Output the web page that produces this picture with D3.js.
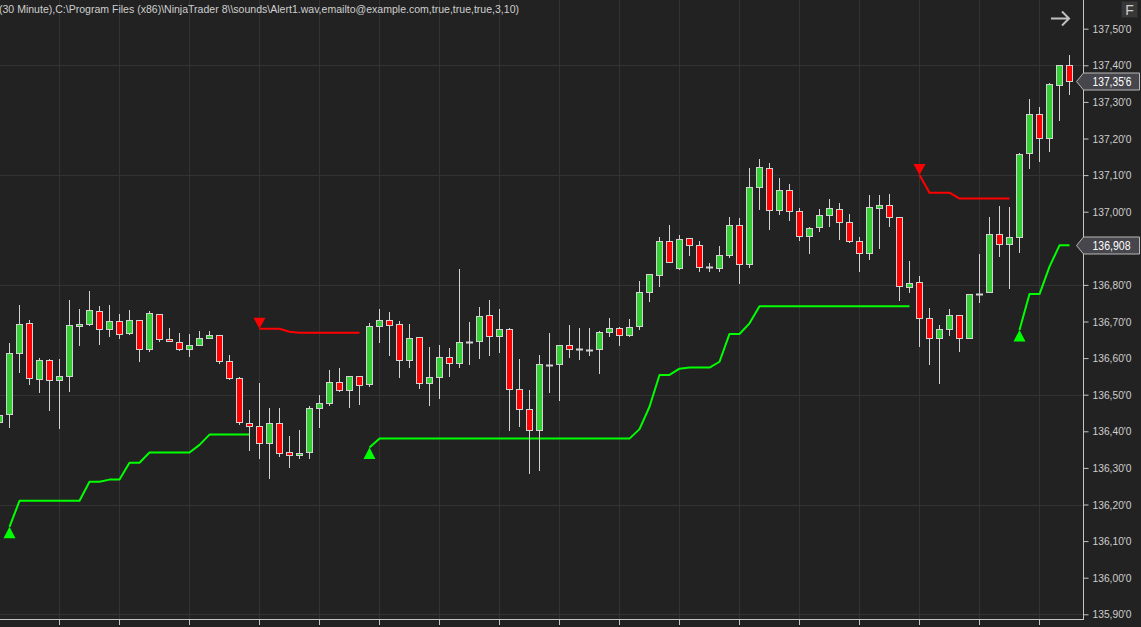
<!DOCTYPE html>
<html>
<head>
<meta charset="utf-8">
<script src="https://cdn.jsdelivr.net/npm/d3@7"></script>
<style>
  html, body { margin: 0; padding: 0; background: #222222; overflow: hidden; }
  svg { display: block; }
</style>
</head>
<body>
<svg id="chart" width="1141" height="627"></svg>
<script>
// ---------------- DATA ----------------
const headerText = "(30 Minute),C:\\Program Files (x86)\\NinjaTrader 8\\\\sounds\\Alert1.wav,emailto@example.com,true,true,true,3,10)";

// 30-minute bars, oldest first (first bar partially visible)
const opens = [136.425,136.446,136.613,136.695,136.542,136.594,136.539,136.550,136.687,136.692,136.728,136.679,136.701,136.668,136.703,136.624,136.720,136.651,136.643,136.624,136.635,136.654,136.662,136.591,136.545,136.422,136.414,136.367,136.422,136.343,136.334,136.343,136.463,136.477,136.534,136.512,136.550,136.528,136.687,136.703,136.692,136.594,136.657,136.531,136.548,136.602,136.586,136.645,136.646,136.717,136.660,136.679,136.515,136.460,136.403,136.582,136.583,136.635,136.624,136.623,136.624,136.670,136.681,136.662,136.687,136.780,136.826,136.919,136.845,136.927,136.908,136.848,136.845,136.881,136.963,136.856,137.067,137.119,137.004,137.058,137.001,136.933,136.957,136.990,137.007,136.971,136.919,136.886,137.009,137.017,136.985,136.793,136.807,136.709,136.654,136.679,136.717,136.654,136.776,136.780,136.938,136.911,136.930,137.160,137.266,137.201,137.345,137.400];
const highs = [136.458,136.640,136.745,136.704,136.599,136.598,136.598,136.759,136.734,136.783,136.742,136.745,136.721,136.731,136.704,136.729,136.721,136.681,136.668,136.665,136.674,136.674,136.662,136.608,136.548,136.458,136.531,136.463,136.463,136.387,136.403,136.468,136.498,136.567,136.572,136.550,136.550,136.695,136.733,136.725,136.701,136.692,136.657,136.630,136.635,136.627,136.843,136.698,136.739,136.758,136.733,136.681,136.597,136.512,136.608,136.668,136.635,136.690,136.681,136.681,136.673,136.709,136.684,136.706,136.810,136.829,136.930,136.963,136.936,136.927,136.919,136.859,136.905,136.985,136.982,137.119,137.143,137.132,137.091,137.075,137.009,136.957,137.007,137.034,137.023,136.993,136.930,137.045,137.045,137.048,136.985,136.864,136.823,136.736,136.690,136.733,136.717,136.774,136.884,136.985,137.015,137.012,137.160,137.307,137.285,137.351,137.400,137.427];
const lows = [136.414,136.410,136.558,136.527,136.505,136.456,136.407,136.508,136.634,136.689,136.636,136.659,136.653,136.663,136.590,136.617,136.643,136.643,136.620,136.604,136.635,136.651,136.583,136.539,136.416,136.347,136.325,136.270,136.331,136.301,136.325,136.325,136.410,136.468,136.507,136.463,136.471,136.520,136.640,136.607,136.545,136.572,136.515,136.468,136.487,136.548,136.572,136.580,136.597,136.607,136.613,136.400,136.411,136.283,136.291,136.504,136.484,136.599,136.594,136.605,136.556,136.657,136.632,136.657,136.676,136.752,136.793,136.862,136.840,136.878,136.834,136.834,136.834,136.873,136.802,136.845,137.004,136.949,136.990,136.974,136.919,136.884,136.944,136.957,136.922,136.914,136.834,136.867,136.897,136.957,136.755,136.777,136.630,136.580,136.528,136.660,136.616,136.651,136.750,136.780,136.875,136.788,136.886,137.116,137.135,137.162,137.247,137.318];
const closes = [136.445,136.613,136.692,136.545,136.594,136.539,136.550,136.690,136.693,136.731,136.679,136.701,136.665,136.703,136.624,136.722,136.651,136.646,136.624,136.635,136.654,136.662,136.591,136.545,136.425,136.414,136.367,136.422,136.340,136.334,136.340,136.463,136.477,136.534,136.512,136.550,136.526,136.687,136.703,136.690,136.594,136.654,136.531,136.548,136.602,136.586,136.643,136.645,136.714,136.660,136.679,136.515,136.460,136.403,136.583,136.582,136.635,136.624,136.624,136.623,136.670,136.681,136.662,136.684,136.780,136.829,136.919,136.862,136.925,136.908,136.848,136.848,136.881,136.963,136.856,137.067,137.121,137.004,137.058,137.001,136.933,136.955,136.990,137.009,136.971,136.919,136.886,137.012,137.017,136.985,136.796,136.804,136.709,136.654,136.679,136.717,136.654,136.774,136.776,136.938,136.911,136.930,137.157,137.266,137.201,137.348,137.400,137.356];

// trailing stop segments (start = bar index)
const longStopStarts = [1, 37, 102];
const longStopValues = [
  [136.139,136.210,136.210,136.210,136.210,136.210,136.210,136.210,136.262,136.262,136.268,136.268,136.314,136.314,136.342,136.342,136.342,136.342,136.342,136.363,136.391,136.391,136.391,136.391,136.391],
  [136.356,136.380,136.380,136.380,136.380,136.380,136.380,136.380,136.380,136.380,136.380,136.380,136.380,136.380,136.380,136.380,136.380,136.380,136.380,136.380,136.380,136.380,136.380,136.380,136.380,136.380,136.380,136.406,136.467,136.554,136.554,136.571,136.574,136.574,136.574,136.590,136.666,136.666,136.695,136.742,136.742,136.742,136.742,136.742,136.742,136.742,136.742,136.742,136.742,136.742,136.742,136.742,136.742,136.742,136.742],
  [136.677,136.775,136.775,136.850,136.908,136.908]
];
const shortStopStarts = [26, 92];
const shortStopValues = [
  [136.680,136.680,136.680,136.672,136.669,136.669,136.669,136.669,136.669,136.669,136.669],
  [137.100,137.052,137.052,137.052,137.036,137.036,137.036,137.036,137.036,137.036]
];

// axis (136,90'0 is hidden behind the stop-price marker in the original)
const yTicks = [135.9,136.0,136.1,136.2,136.3,136.4,136.5,136.6,136.7,136.8,137.0,137.1,137.2,137.3,137.4,137.5];
const yTickLabels = ["135,90'0","136,00'0","136,10'0","136,20'0","136,30'0","136,40'0","136,50'0","136,60'0","136,70'0","136,80'0","137,00'0","137,10'0","137,20'0","137,30'0","137,40'0","137,50'0"];
const yGridValues = [135.9,136.2,136.5,136.8,137.1,137.4];
const xGridBars = [6,12,19,26,32,38,44,50,56,62,68,74,80,86,92,98,104];

const markerValues = [137.356, 136.908];
const markerLabels = ["137,35'6", "136,908"];

// ---------------- DRAW ----------------
const svg = d3.select("#chart");
const W = 1141, H = 627;
const plotRight = 1083, plotBottom = 619;
const FONT = "'Liberation Sans', Arial, sans-serif";

const x = d3.scaleLinear().domain([0, opens.length - 1]).range([-0.7, 1069.3]);
const y = d3.scaleLinear().domain([135.9, 137.5]).range([614.3, 28.7]);
const px = v => Math.round(v) + 0.5;

const bg = "#222222", grid = "#333333", axisCol = "#c4c4c4", textCol = "#cfcfcf";
const outline = "#d2d2d2", upCol = "#32cd32", downCol = "#ff0000";

svg.append("rect").attr("width", W).attr("height", H).attr("fill", bg);

// grid
const g = svg.append("g");
g.selectAll(".hg").data(yGridValues).join("line")
  .attr("x1", 0).attr("x2", plotRight).attr("y1", d => px(y(d))).attr("y2", d => px(y(d)))
  .attr("stroke", grid).attr("stroke-width", 1);
g.selectAll(".vg").data(xGridBars).join("line")
  .attr("x1", d => px(x(d))).attr("x2", d => px(x(d))).attr("y1", 0).attr("y2", plotBottom)
  .attr("stroke", grid).attr("stroke-width", 1);

// header text
svg.append("text").attr("x", -1).attr("y", 13)
  .attr("fill", textCol).attr("font-family", FONT)
  .attr("font-size", "11px").attr("textLength", 520).attr("lengthAdjust", "spacingAndGlyphs").text(headerText);

// stop lines
const lineGen = (start) => d3.line().x((d, j) => px(x(start + j))).y(d => y(d));
const stopsG = svg.append("g");
longStopValues.forEach((vals, s) => {
  stopsG.append("path").attr("d", lineGen(longStopStarts[s])(vals))
    .attr("fill", "none").attr("stroke", "#00ff00").attr("stroke-width", 2).attr("stroke-linejoin", "round");
  const cx = px(x(longStopStarts[s])), cy = y(vals[0]);
  stopsG.append("path").attr("d", `M${cx},${cy} L${cx + 6},${cy + 11.5} L${cx - 6},${cy + 11.5} Z`).attr("fill", "#00ff00");
});
shortStopValues.forEach((vals, s) => {
  stopsG.append("path").attr("d", lineGen(shortStopStarts[s])(vals))
    .attr("fill", "none").attr("stroke", "#ff0000").attr("stroke-width", 2).attr("stroke-linejoin", "round");
  const cx = px(x(shortStopStarts[s])), cy = y(vals[0]);
  stopsG.append("path").attr("d", `M${cx},${cy} L${cx + 6},${cy - 11} L${cx - 6},${cy - 11} Z`).attr("fill", "#ff0000");
});

// candles
const cg = svg.append("g");
opens.forEach((o, k) => {
  const c = closes[k], h = highs[k], l = lows[k];
  const cx = px(x(k));
  cg.append("line").attr("x1", cx).attr("x2", cx)
    .attr("y1", Math.round(y(h))).attr("y2", Math.round(y(l)))
    .attr("stroke", outline).attr("stroke-width", 1);
  const yt = Math.round(y(Math.max(o, c))), yb = Math.round(y(Math.min(o, c)));
  if (yb - yt < 1) {
    cg.append("line").attr("x1", cx - 3.5).attr("x2", cx + 3.5).attr("y1", yt + 0.5).attr("y2", yt + 0.5)
      .attr("stroke", outline).attr("stroke-width", 2);
  } else {
    cg.append("rect").attr("x", cx - 3).attr("y", yt + 0.5).attr("width", 6).attr("height", Math.max(1, yb - yt))
      .attr("fill", c > o ? upCol : downCol).attr("stroke", outline).attr("stroke-width", 1);
  }
});

// axes
const axG = svg.append("g");
axG.append("line").attr("x1", plotRight + 0.5).attr("x2", plotRight + 0.5).attr("y1", 0).attr("y2", plotBottom + 1)
  .attr("stroke", axisCol);
axG.append("line").attr("x1", 0).attr("x2", plotRight + 1).attr("y1", plotBottom + 0.5).attr("y2", plotBottom + 0.5)
  .attr("stroke", axisCol);
axG.selectAll(".xt").data(xGridBars).join("line")
  .attr("x1", d => px(x(d))).attr("x2", d => px(x(d))).attr("y1", plotBottom + 1).attr("y2", plotBottom + 6)
  .attr("stroke", axisCol);

const yAxis = d3.axisRight(y).tickValues(yTicks).tickSize(5).tickPadding(4)
  .tickFormat((d, i) => yTickLabels[i]);
const yA = svg.append("g").attr("transform", `translate(${plotRight + 0.5},0)`).call(yAxis);
yA.select(".domain").remove();
yA.selectAll(".tick line").attr("stroke", axisCol);
yA.selectAll(".tick text").attr("fill", textCol).attr("font-family", FONT)
  .attr("font-size", "11.5px").attr("textLength", 39).attr("lengthAdjust", "spacingAndGlyphs");

// price markers
markerValues.forEach((v, i) => {
  const cy = Math.round(y(v)) + 0.5;
  svg.append("path")
    .attr("d", `M1076.5,${cy} L1083.5,${cy - 8.5} L1139.5,${cy - 8.5} L1139.5,${cy + 8.5} L1083.5,${cy + 8.5} Z`)
    .attr("fill", "#46464c").attr("stroke", "#b8b8b8").attr("stroke-width", 1);
  svg.append("text").attr("x", 1092.5).attr("y", cy + 4.5).attr("fill", "#ffffff")
    .attr("font-family", FONT).attr("font-size", "12px")
    .attr("textLength", markerLabels[i].length > 7 ? 39 : 38).attr("lengthAdjust", "spacingAndGlyphs")
    .text(markerLabels[i]);
});

// top-right controls
svg.append("rect").attr("x", 1121.5).attr("y", 1.5).attr("width", 16).attr("height", 16)
  .attr("fill", "#383838").attr("stroke", "#2a2a2a");
svg.append("text").attr("x", 1129.5).attr("y", 14.5).attr("text-anchor", "middle").attr("fill", "#cfcfcf")
  .attr("font-family", FONT).attr("font-size", "14px").text("F");
svg.append("path").attr("d", "M1051,18.5 L1069,18.5 M1062,11.5 L1069,18.5 L1062,25.5")
  .attr("fill", "none").attr("stroke", "#c0c0c0").attr("stroke-width", 2);
</script>
</body>
</html>
